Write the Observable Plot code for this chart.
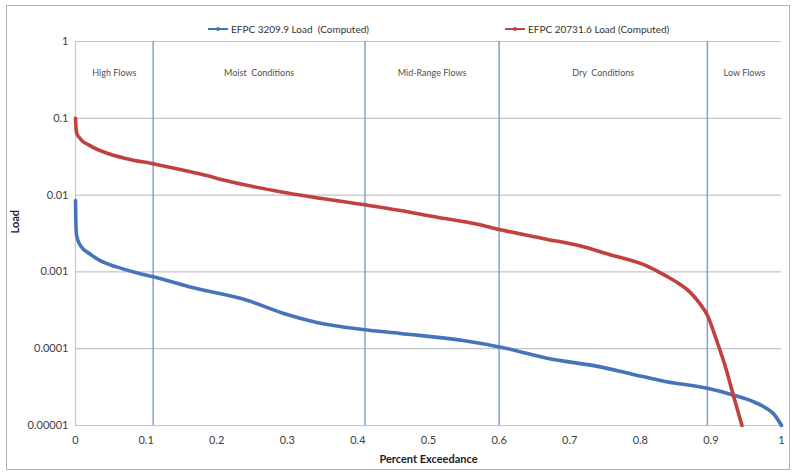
<!DOCTYPE html>
<html>
<head>
<meta charset="utf-8">
<script src="https://cdn.jsdelivr.net/npm/d3@7"></script>
<script src="https://cdn.jsdelivr.net/npm/@observablehq/plot@0.6"></script>
<style>
  body { margin: 0; background: #fff; font-family: Lato, "Open Sans", sans-serif; }
  #wrap { position: relative; width: 797px; height: 474px; overflow: hidden; background: #fff; }
  #frame { position: absolute; left: 6px; top: 5px; width: 782px; height: 463px; border: 1px solid #b4b4b4; pointer-events: none; }
  #legend { position: relative; height: 22px; font-size: 10px; color: #333; z-index: 2; }
  .item { position: absolute; top: 23px; display: flex; align-items: center; white-space: pre; }
  .sw { position: relative; width: 20px; height: 2px; margin-right: 3px; }
  .sw i { position: absolute; left: 8px; top: -1px; width: 4px; height: 4px; border-radius: 2px; }
  #chart svg { display: block; }
</style>
</head>
<body>
<div id="wrap">
  <div id="legend"></div>
  <div id="chart"></div>
  <div id="frame"></div>
</div>
<script>
const seriesNames = ["EFPC 3209.9 Load  (Computed)", "EFPC 20731.6 Load (Computed)"];
const seriesColors = ["#4673b9", "#c0413e"];

const blueX = [0, 0.0005, 0.0015, 0.007, 0.021, 0.035, 0.057, 0.085, 0.113, 0.167, 0.243, 0.294, 0.342, 0.407, 0.46, 0.549, 0.604, 0.668, 0.743, 0.787, 0.837, 0.895, 0.931, 0.959, 0.978, 0.99, 1.0];
const blueY = [0.0085, 0.0045, 0.003, 0.0022, 0.0017, 0.0014, 0.00117, 0.00098, 0.00085, 0.00062, 0.000427, 0.00029, 0.00022, 0.000178, 0.000158, 0.000128, 0.000104, 0.000075, 0.000058, 0.000047, 0.0000372, 0.0000305, 0.000025, 0.0000206, 0.0000169, 0.0000138, 0.00001];

const redX = [0, 0.0015, 0.007, 0.021, 0.042, 0.071, 0.113, 0.177, 0.223, 0.294, 0.407, 0.46, 0.5, 0.573, 0.604, 0.667, 0.714, 0.755, 0.809, 0.837, 0.856, 0.87, 0.884, 0.895, 0.908, 0.922, 0.931, 0.944];
const redY = [0.1, 0.065, 0.0537, 0.0438, 0.0359, 0.03, 0.0253, 0.0188, 0.0147, 0.0109, 0.00753, 0.0063, 0.0054, 0.0041, 0.0035, 0.00267, 0.00219, 0.0017, 0.0012, 0.00088, 0.00069, 0.00055, 0.00039, 0.000272, 0.000129, 0.0000525, 0.0000263, 0.00001];

const regionBounds = [0, 0.11, 0.41, 0.6, 0.895, 1];
const regionNames = ["High Flows", "Moist  Conditions", "Mid-Range Flows", "Dry  Conditions", "Low Flows"];

const yTicks = [1, 0.1, 0.01, 0.001, 0.0001, 0.00001];
const xTicks = [0, 0.1, 0.2, 0.3, 0.4, 0.5, 0.6, 0.7, 0.8, 0.9, 1];

const series = [
  {name: seriesNames[0], color: seriesColors[0], pts: blueX.map((x, i) => ({x, y: blueY[i]}))},
  {name: seriesNames[1], color: seriesColors[1], pts: redX.map((x, i) => ({x, y: redY[i]}))}
];

// legend
const legend = document.getElementById("legend");
const legendLeft = [208, 505];
series.forEach((s, i) => {
  const it = document.createElement("div");
  it.className = "item";
  it.style.left = legendLeft[i] + "px";
  it.innerHTML = `<span class="sw" style="background:${s.color}"><i style="background:${s.color}"></i></span><span>${s.name}</span>`;
  legend.appendChild(it);
});

const regions = regionNames.map((name, i) => ({name, x: (regionBounds[i] + regionBounds[i + 1]) / 2}));
const dividers = regionBounds.slice(1, -1);
const fmtX = d => String(+d.toFixed(1));

const plot = Plot.plot({
  width: 797,
  height: 452,
  marginTop: 19,
  marginBottom: 49,
  marginLeft: 75,
  marginRight: 16,
  style: {fontFamily: "Lato, 'Open Sans', sans-serif", fontSize: "11px", color: "#404040", background: "transparent"},
  x: {domain: [0, 1], ticks: xTicks, tickFormat: fmtX, tickSize: 0, tickPadding: 11, label: null},
  y: {type: "log", domain: [0.00001, 1], ticks: yTicks, tickFormat: d => String(d), tickSize: 0, tickPadding: 7, label: null},
  marks: [
    Plot.ruleY(yTicks, {stroke: "#c4c4c4", strokeWidth: 1.2}),
    Plot.ruleX([0], {stroke: "#c4c4c4", strokeWidth: 1.2}),
    Plot.ruleX(dividers, {stroke: "#7ea3d1", strokeWidth: 1.5}),
    Plot.text(regions, {x: "x", text: "name", frameAnchor: "top", dy: 28, fontSize: 9, fill: "#505050"}),
    ...series.map(s => Plot.line(s.pts, {x: "x", y: "y", stroke: s.color, strokeWidth: 3.6, curve: "monotone-x"})),
    Plot.axisX({ticks: xTicks, tickFormat: fmtX, tickSize: 0, tickPadding: 11, label: null}),
    Plot.axisY({ticks: yTicks, tickFormat: d => String(d), tickSize: 0, tickPadding: 7, label: null}),
    Plot.text(["Percent Exceedance"], {frameAnchor: "bottom", dy: 37, fontWeight: "bold", fontSize: 11, fill: "#222"}),
    Plot.text(["Load"], {frameAnchor: "left", dx: -60, rotate: -90, fontWeight: "bold", fontSize: 11, fill: "#222"})
  ]
});
document.getElementById("chart").appendChild(plot);
</script>
</body>
</html>
